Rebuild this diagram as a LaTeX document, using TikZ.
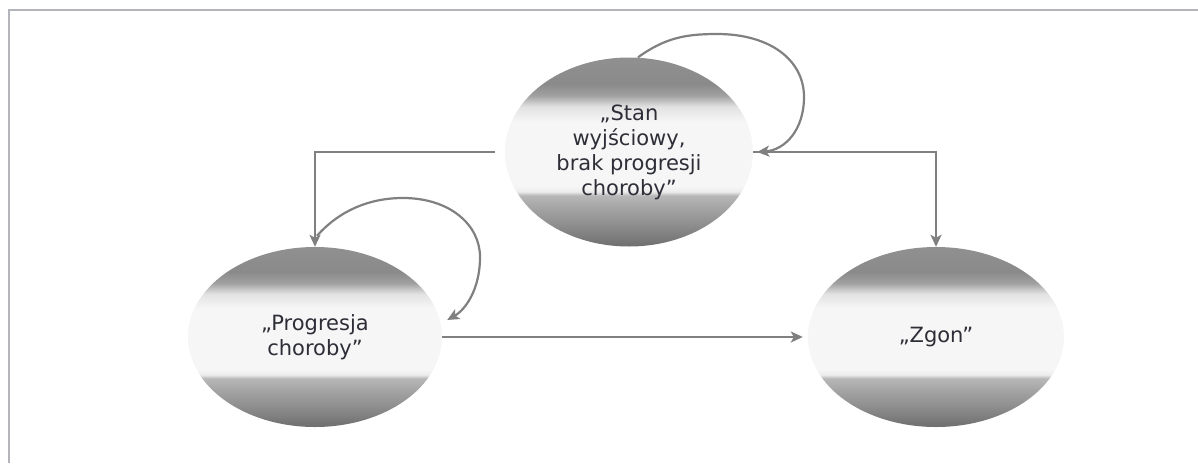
\documentclass[tikz,border=0pt]{standalone}
\usepackage{fontspec}
\setmainfont{DejaVu Sans}
\usetikzlibrary{shapes.geometric,arrows.meta}
\definecolor{sA}{HTML}{6E6E6E}
\definecolor{sB}{HTML}{8A8A8A}
\definecolor{sC}{HTML}{A8A8A8}
\definecolor{sD}{HTML}{B8B8B8}
\definecolor{sE}{HTML}{ECECEC}
\definecolor{sF}{HTML}{F6F6F6}
\definecolor{sG}{HTML}{E2E2E2}
\definecolor{sH}{HTML}{A0A0A0}
\definecolor{sI}{HTML}{8A8A8A}
\definecolor{sJ}{HTML}{909090}
\definecolor{linecol}{HTML}{808080}
\definecolor{framecol}{HTML}{B4B4BC}
\definecolor{txtcol}{HTML}{2E2E38}
\pgfdeclareverticalshading{eggshade}{100bp}{color(0bp)=(sA); color(25bp)=(sA); color(30bp)=(sB); color(36bp)=(sC); color(38.5bp)=(sD); color(39.5bp)=(sE); color(41bp)=(sF); color(58bp)=(sF); color(62bp)=(sG); color(65bp)=(sH); color(68bp)=(sI); color(75bp)=(sJ); color(100bp)=(sJ)}
\tikzset{
  state/.style={ellipse, shading=eggshade, draw=none, text=txtcol, align=center,
    font=\fontsize{21}{25}\selectfont, inner sep=0pt},
  conn/.style={draw=linecol, line width=2.2pt},
  tip/.style={-{Stealth[length=12pt,width=11pt,inset=3pt]}},
  frameline/.style={draw=framecol, line width=1.5pt}
}
\begin{document}
\begin{tikzpicture}[x=1pt,y=-1pt]
\useasboundingbox (0,0) rectangle (1198,463);
\coordinate (fa) at (9,463);
\coordinate (fb) at (9,10);
\coordinate (fc) at (1198,10);
\draw[frameline] (fa) -- (fb) -- (fc);

\node[state, minimum width=248pt, minimum height=189pt] (top) at (629,152)
  {„Stan\\wyjściowy,\\brak progresji\\choroby”};
\node[state, minimum width=254pt, minimum height=180pt] (left) at (315,337)
  {„Progresja\\choroby”};
\node[state, minimum width=256pt, minimum height=180pt] (right) at (936,337)
  {„Zgon”};

% transitions from the top state
\draw[conn,tip] ([xshift=-10pt]top.west) -| (left.north);
\draw[conn,tip] (top.east) -| (right.north);
\draw[conn,tip,shorten >=5pt] (left.east) -- (right.west);

% self loops
\coordinate (tls) at ([xshift=9pt]top.north);
\coordinate (tle) at ([xshift=4pt]top.east);
\draw[conn,tip] (tls) .. controls (665,38) and (685,34) .. (717,34)
  .. controls (770,34) and (804,60) .. (804,97)
  .. controls (804,130) and (785,150) .. (tle);

\coordinate (lls) at ([shift={(2,-11)}]left.north);
\coordinate (lle) at ([shift={(5,-17)}]left.east);
\draw[conn,tip] (lls) .. controls (340,210) and (370,198) .. (403,198)
  .. controls (450,198) and (480,225) .. (480,257)
  .. controls (480,290) and (465,310) .. (lle);
\end{tikzpicture}
\end{document}
